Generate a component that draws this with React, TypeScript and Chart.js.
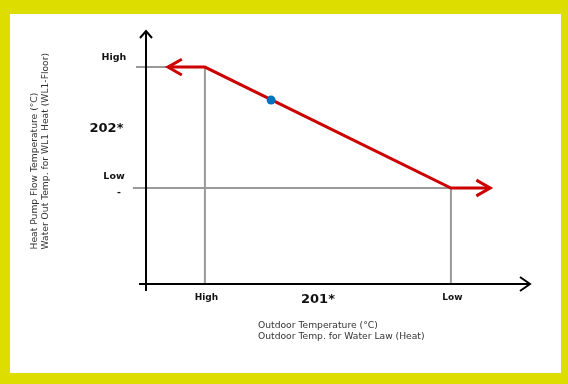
import React, { useEffect, useRef } from "react";
import { Chart, registerables } from "chart.js";

Chart.register(...registerables);

// Abstract axis values (0..100 on both axes)
const xHigh = 15.3; // outdoor temp "High"
const xLow = 79.2; // outdoor temp "Low"
const yHigh = 85.4; // flow temp "High"
const yLow = 37.8; // flow temp "Low"
const xArrowLeftTip = 5.7;
const xArrowRightTip = 89.4;
const setPointX = 32.5;
const setPointY = 72.4;
const guideStartHigh = -2.6;
const guideStartLow = -3.4;
const barbDx = 3.6;
const barbDy = 3.1;

const xTickLabels = ["High", "Low"];
const yTickLabels = ["High", "Low"];
const xCode = "201*";
const yCode = "202*";
const xTitle = ["Outdoor Temperature (°C)", "Outdoor Temp. for Water Law (Heat)"];
const yTitle = ["Heat Pump Flow Temperature (°C)", "Water Out Temp. for WL1 Heat (WL1-Floor)"];

const RED = "#CC0000";
const GRAY = "#999999";

export default function App() {
  const ref = useRef<HTMLCanvasElement | null>(null);

  useEffect(() => {
    const canvas = ref.current;
    if (!canvas) return;

    const bgPlugin = {
      id: "bg",
      beforeDraw(chart: any) {
        const ctx = chart.ctx;
        ctx.save();
        ctx.fillStyle = "#DDDD00";
        ctx.fillRect(0, 0, chart.width, chart.height);
        ctx.fillStyle = "#FFFFFF";
        ctx.fillRect(10, 14, 551, 359);
        ctx.restore();
      },
    };

    const axesPlugin = {
      id: "axesText",
      afterDatasetsDraw(chart: any) {
        const ctx = chart.ctx;
        const xs = chart.scales.x;
        const ys = chart.scales.y;
        const x0 = xs.getPixelForValue(0);
        const y0 = ys.getPixelForValue(0);
        const xEnd = xs.getPixelForValue(100);
        const yEnd = ys.getPixelForValue(100);
        ctx.save();
        ctx.strokeStyle = "#000";
        ctx.lineWidth = 2;
        ctx.lineCap = "butt";
        // y axis
        ctx.beginPath();
        ctx.moveTo(x0, y0 + 7);
        ctx.lineTo(x0, yEnd + 1);
        ctx.stroke();
        ctx.beginPath();
        ctx.moveTo(x0 - 6, yEnd + 8);
        ctx.lineTo(x0, yEnd + 1);
        ctx.lineTo(x0 + 6, yEnd + 8);
        ctx.stroke();
        // x axis
        ctx.beginPath();
        ctx.moveTo(x0 - 7, y0);
        ctx.lineTo(xEnd - 1, y0);
        ctx.stroke();
        ctx.beginPath();
        ctx.moveTo(xEnd - 11, y0 - 7);
        ctx.lineTo(xEnd - 1, y0);
        ctx.lineTo(xEnd - 11, y0 + 7);
        ctx.stroke();

        // tick labels
        ctx.fillStyle = "#111";
        ctx.textAlign = "center";
        ctx.textBaseline = "middle";
        ctx.font = "bold 9.5px 'DejaVu Sans'";
        ctx.fillText(yTickLabels[0], 114, ys.getPixelForValue(yHigh) - 10);
        ctx.fillText(yTickLabels[1], 114, ys.getPixelForValue(yLow) - 11);
        ctx.fillText("-", 119, ys.getPixelForValue(yLow) + 5);
        ctx.font = "bold 9px 'DejaVu Sans'";
        ctx.fillText(xTickLabels[0], xs.getPixelForValue(xHigh) + 1.5, y0 + 14);
        ctx.fillText(xTickLabels[1], xs.getPixelForValue(xLow) + 1.5, y0 + 14);
        ctx.font = "bold 13px 'DejaVu Sans'";
        ctx.fillText(yCode, 106.5, 128.5);
        ctx.fillText(xCode, 318, y0 + 16);

        // titles
        ctx.fillStyle = "#333";
        ctx.font = "9.2px 'DejaVu Sans'";
        ctx.textAlign = "left";
        ctx.fillText(xTitle[0], 258, 326);
        ctx.fillText(xTitle[1], 258, 337);
        ctx.save();
        ctx.translate(35, 249.5);
        ctx.rotate(-Math.PI / 2);
        ctx.fillText(yTitle[0], 0, 0);
        ctx.fillText(yTitle[1], 0, 11);
        ctx.restore();
        ctx.restore();
      },
    };

    const line = (data: { x: number; y: number }[], color: string, width: number, order: number) =>
      ({
        data,
        showLine: true,
        borderColor: color,
        borderWidth: width,
        pointRadius: 0,
        clip: false,
        order,
      } as any);

    const chart = new Chart(canvas, {
      type: "scatter",
      data: {
        datasets: [
          line(
            [
              { x: guideStartHigh, y: yHigh },
              { x: xHigh, y: yHigh },
              { x: xHigh, y: 0 },
            ],
            GRAY,
            2,
            5
          ),
          line(
            [
              { x: guideStartLow, y: yLow },
              { x: xLow, y: yLow },
              { x: xLow, y: 0 },
            ],
            GRAY,
            2,
            5
          ),
          line(
            [
              { x: xArrowLeftTip, y: yHigh },
              { x: xHigh, y: yHigh },
              { x: xLow, y: yLow },
              { x: xArrowRightTip, y: yLow },
            ],
            RED,
            3,
            3
          ),
          line(
            [
              { x: xArrowLeftTip + barbDx, y: yHigh + barbDy },
              { x: xArrowLeftTip, y: yHigh },
              { x: xArrowLeftTip + barbDx, y: yHigh - barbDy },
            ],
            RED,
            3,
            3
          ),
          line(
            [
              { x: xArrowRightTip - barbDx, y: yLow + barbDy },
              { x: xArrowRightTip, y: yLow },
              { x: xArrowRightTip - barbDx, y: yLow - barbDy },
            ],
            RED,
            3,
            3
          ),
          {
            data: [{ x: setPointX, y: setPointY }],
            backgroundColor: "#0070C0",
            borderColor: "#0070C0",
            pointRadius: 4.5,
            borderWidth: 0,
            clip: false,
            order: 1,
          } as any,
        ],
      },
      options: {
        animation: false,
        responsive: false,
        devicePixelRatio: 1,
        layout: { padding: { left: 146, right: 37, top: 30, bottom: 100 } },
        scales: {
          x: { type: "linear", min: 0, max: 100, display: false },
          y: { type: "linear", min: 0, max: 100, display: false },
        },
        plugins: {
          legend: { display: false },
          tooltip: { enabled: false },
        },
        events: [],
      },
      plugins: [bgPlugin, axesPlugin],
    });

    return () => chart.destroy();
  }, []);

  return (
    <div style={{ position: "fixed", left: 0, top: 0, width: 568, height: 384 }}>
      <canvas ref={ref} width={568} height={384} style={{ display: "block" }} />
    </div>
  );
}
